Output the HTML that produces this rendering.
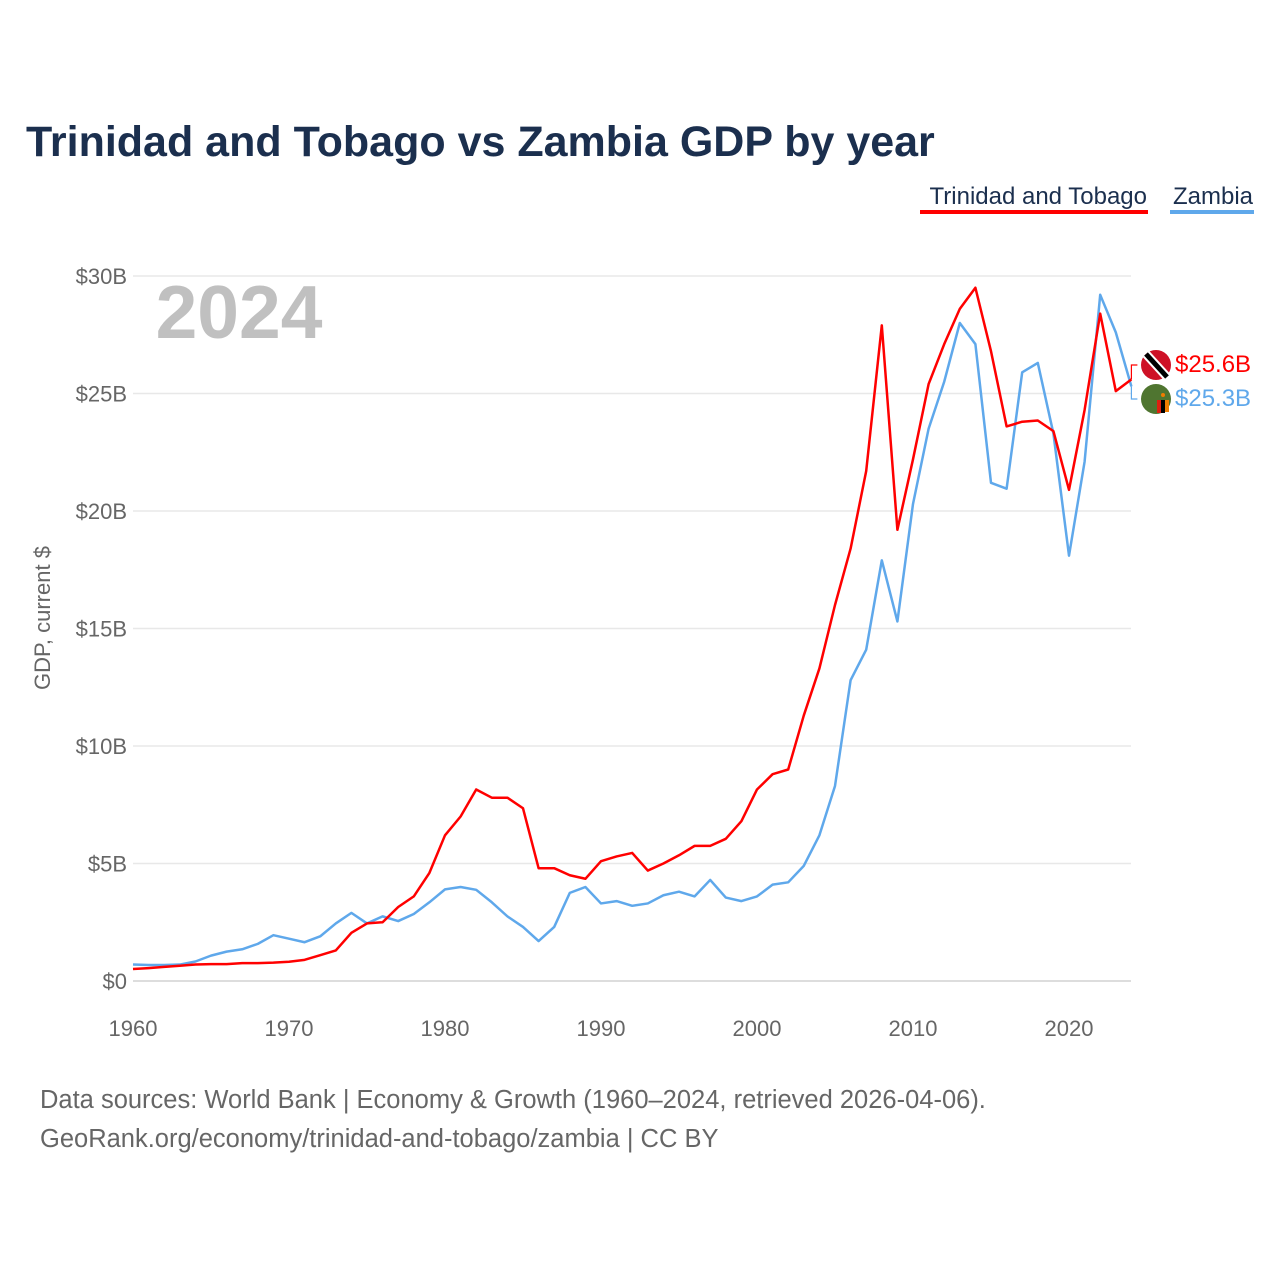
<!DOCTYPE html>
<html><head><meta charset="utf-8"><style>
body{margin:0;background:#fff;font-family:"Liberation Sans",sans-serif}
</style></head><body>
<svg width="1280" height="1280" viewBox="0 0 1280 1280">
<text x="26" y="156" font-size="43" font-weight="bold" fill="#1b2f4e">Trinidad and Tobago vs Zambia GDP by year</text>
<g><text x="1147" y="204" text-anchor="end" font-size="24" fill="#1b2f4e">Trinidad and Tobago</text><rect x="920" y="210" width="228" height="4" fill="#ff0000"/></g>
<g><text x="1253" y="204" text-anchor="end" font-size="24" fill="#1b2f4e">Zambia</text><rect x="1170" y="210" width="84" height="4" fill="#5fa8eb"/></g>
<g id="grid"></g>
<g id="xaxis"></g>
<text x="239" y="338" text-anchor="middle" font-size="75" font-weight="bold" fill="#c0c0c0">2024</text>
<text transform="translate(50,618) rotate(-90)" text-anchor="middle" font-size="22" fill="#666">GDP, current $</text>
<g id="series"></g>
<g>
<g><circle cx="1156" cy="365" r="15" fill="#ce1126"/><line x1="1146" y1="354" x2="1167" y2="377" stroke="#fff" stroke-width="9"/><line x1="1146" y1="354" x2="1167" y2="377" stroke="#000" stroke-width="5"/></g>
<g><circle cx="1156" cy="399" r="15" fill="#4f7530"/><rect x="1157" y="400" width="4" height="13" fill="#de2010"/><rect x="1161" y="400" width="4" height="13" fill="#000"/><rect x="1165" y="400" width="4" height="12" fill="#ef7d00"/><circle cx="1163" cy="395" r="2" fill="#ef7d00"/></g>
<text x="1175" y="372" font-size="24" fill="#ff0000">$25.6B</text>
<text x="1175" y="406" font-size="24" fill="#5fa8eb">$25.3B</text>
</g>
<text x="40" y="1108" font-size="25.5" fill="#666">Data sources: World Bank | Economy &amp; Growth (1960–2024, retrieved 2026-04-06).</text>
<text x="40" y="1147" font-size="25.5" fill="#666">GeoRank.org/economy/trinidad-and-tobago/zambia | CC BY</text>
</svg>
<script>
const startYear = 1960;
const trinidad = [0.51,0.55,0.6,0.65,0.7,0.72,0.72,0.76,0.76,0.78,0.82,0.9,1.1,1.3,2.05,2.45,2.5,3.15,3.6,4.6,6.2,7.0,8.15,7.8,7.8,7.35,4.8,4.8,4.5,4.35,5.1,5.3,5.45,4.7,5.0,5.35,5.75,5.75,6.05,6.8,8.15,8.8,9.0,11.3,13.3,16.0,18.4,21.7,27.9,19.2,22.2,25.4,27.1,28.6,29.5,26.8,23.6,23.8,23.85,23.4,20.9,24.3,28.4,25.1,25.6];
const zambia = [0.7,0.68,0.68,0.7,0.83,1.08,1.25,1.35,1.58,1.95,1.8,1.65,1.9,2.45,2.9,2.45,2.75,2.55,2.85,3.35,3.9,4.0,3.88,3.35,2.75,2.3,1.7,2.3,3.75,4.0,3.3,3.4,3.2,3.3,3.65,3.8,3.6,4.3,3.55,3.4,3.6,4.1,4.2,4.9,6.2,8.3,12.8,14.1,17.9,15.3,20.3,23.5,25.5,28.0,27.1,21.2,20.95,25.9,26.3,23.3,18.1,22.1,29.2,27.6,25.3];
const yTicks = [0,5,10,15,20,25,30];
const yTickLabels = ["$0","$5B","$10B","$15B","$20B","$25B","$30B"];
const xTicks = [1960,1970,1980,1990,2000,2010,2020];
const NS="http://www.w3.org/2000/svg";
const x = yr => 133 + (yr-1960)*15.6;
const y = v => 981 - v*23.5;
const grid=document.getElementById('grid'), xa=document.getElementById('xaxis'), ser=document.getElementById('series');
yTicks.forEach((t,i)=>{
  const l=document.createElementNS(NS,'line');
  l.setAttribute('x1',133);l.setAttribute('x2',1131);l.setAttribute('y1',y(t));l.setAttribute('y2',y(t));
  l.setAttribute('stroke',t===0?'#ddd':'#e8e8e8');l.setAttribute('stroke-width',t===0?2:1.5);
  
  
  grid.appendChild(l);
  const tx=document.createElementNS(NS,'text');
  tx.setAttribute('x',127);tx.setAttribute('y',y(t)+8);tx.setAttribute('text-anchor','end');
  tx.setAttribute('font-size','22');tx.setAttribute('fill','#666');tx.textContent=yTickLabels[i];
  
  
  grid.appendChild(tx);
});
xTicks.forEach(t=>{
  const tx=document.createElementNS(NS,'text');
  tx.setAttribute('x',x(t));tx.setAttribute('y',1036);tx.setAttribute('text-anchor','middle');
  tx.setAttribute('font-size','22');tx.setAttribute('fill','#666');tx.textContent=t;
  
  
  xa.appendChild(tx);
});
function line(data,color,name){
  const p=document.createElementNS(NS,'polyline');
  p.setAttribute('points',data.map((v,i)=>x(startYear+i)+','+y(v)).join(' '));
  p.setAttribute('fill','none');p.setAttribute('stroke',color);p.setAttribute('stroke-width',2.5);p.setAttribute('stroke-linejoin','round');
  
  
  ser.appendChild(p);
  return p;
}
line(zambia,'#5fa8eb','zambia-line');
line(trinidad,'#ff0000','trinidad-line');
const lx=x(startYear+trinidad.length-1);
const c1=document.createElementNS(NS,'path');
c1.setAttribute('d',`M${lx} ${y(trinidad[trinidad.length-1])} L${lx} 365 L${lx+6} 365`);
c1.setAttribute('fill','none');c1.setAttribute('stroke','#ff0000');c1.setAttribute('stroke-width',1.2);


ser.appendChild(c1);
const c2=document.createElementNS(NS,'path');
c2.setAttribute('d',`M${lx} ${y(zambia[zambia.length-1])} L${lx} 399 L${lx+6} 399`);
c2.setAttribute('fill','none');c2.setAttribute('stroke','#5fa8eb');c2.setAttribute('stroke-width',1.2);


ser.appendChild(c2);
</script>
</body></html>
